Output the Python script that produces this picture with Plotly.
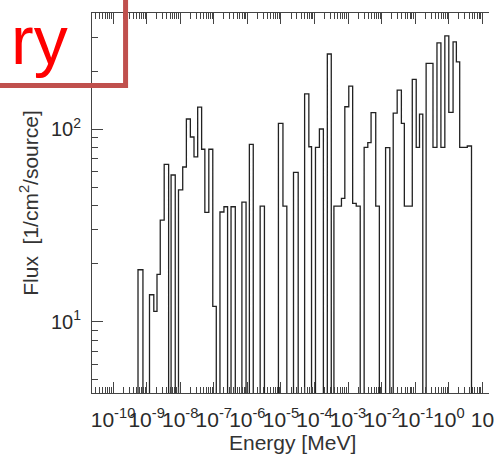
import plotly.graph_objects as go

# ---------------- data ----------------
# bin edges in MeV (78 edges -> 77 bins)
edges_mev = [
    5.55e-10, 7.78e-10, 1.22e-9, 1.64e-9, 2.04e-9, 2.55e-9, 3.34e-9, 4.53e-9,
    5.36e-9, 7.13e-9, 8.91e-9, 1.19e-8, 1.53e-8, 2.01e-8, 2.58e-8, 3.32e-8,
    4.35e-8, 5.43e-8, 7.13e-8, 9.35e-8, 1.19e-7, 1.53e-7, 2.01e-7, 2.58e-7,
    3.27e-7, 4.38e-7, 6.89e-7, 9.16e-7, 1.15e-6, 1.50e-6, 2.41e-6, 3.23e-6,
    8.43e-6, 1.15e-5, 1.50e-5, 2.37e-5, 3.27e-5, 5.08e-5, 6.79e-5, 8.17e-5,
    1.07e-4, 1.40e-4, 1.84e-4, 2.41e-4, 3.16e-4, 3.79e-4, 6.35e-4, 8.00e-4,
    1.05e-3, 1.37e-3, 1.75e-3, 2.30e-3, 3.01e-3, 3.87e-3, 4.84e-3, 6.67e-3,
    8.55e-3, 1.31e-2, 1.75e-2, 2.21e-2, 2.90e-2, 3.87e-2, 4.74e-2, 8.17e-2,
    1.07e-1, 1.34e-1, 1.68e-1, 2.11e-1, 3.38e-1, 4.44e-1, 5.82e-1, 7.62e-1,
    1.00, 1.34, 1.68, 2.11, 3.55, 4.74,
]
# flux per bin [1/cm^2/source]; 0 = empty bin
flux = [
    18.6, 0, 13.8, 11.3, 17.6, 33.7, 65.6, 0,
    57.7, 0, 48.3, 63.5, 112.7, 90.9, 71.6, 130,
    78.5, 36.9, 78.5, 12.0, 0, 37.1, 39.5, 0,
    39.5, 0, 41.7, 0, 83.3, 0, 39.8, 0,
    107, 39.8, 0, 59.6, 0, 152, 80.9, 0,
    80.3, 100, 0, 245, 0, 39.8, 43.7, 130.5,
    167, 41.1, 39.8, 0, 80.3, 84.9, 121.5, 39.8,
    0, 80.1, 0, 121, 159, 107, 39.8, 181,
    80.3, 119.6, 0, 219, 80.3, 280, 80.3, 304,
    122, 283, 223, 80.3, 81.6,
]
assert len(edges_mev) == len(flux) + 1

x_tick_vals = [10.0 ** k for k in range(-10, 2)]
x_tick_text = ["10<sup>-%d</sup>" % (-k) for k in range(-10, 0)] + ["10<sup>0</sup>", "10"]
y_tick_vals = [10, 100]
y_tick_text = ["10<sup>1</sup>", "10<sup>2</sup>"]

x_minor = [m * 10.0 ** k for k in range(-12, 2) for m in range(2, 10)]
y_minor = [m * 10.0 ** k for k in range(0, 3) for m in range(2, 10)]

# ---------------- geometry ----------------
W, H = 494, 455
PL, PR, PT, PB = 92, 494, 13, 393


def px(x):
    return (x - PL) / (PR - PL)


def py(y):
    return (PB - y) / (PB - PT)


TINY = 1e-3  # empty bins fall below the visible range
xs = [1e-13] + edges_mev + [1e3]
ys = [TINY] + [v if v > 0 else TINY for v in flux] + [TINY, TINY]

FONT = "Liberation Sans, Arial, sans-serif"
AX = "#444444"
TXT = "#2a2a2a"

fig = go.Figure()
fig.add_trace(go.Scatter(
    x=xs, y=ys, mode="lines", line=dict(shape="hv", color="#222222", width=1.3),
    hoverinfo="skip", showlegend=False,
))

fig.update_layout(
    width=W, height=H,
    margin=dict(l=PL, r=W - PR, t=PT, b=H - PB, pad=0),
    paper_bgcolor="white", plot_bgcolor="white",
    font=dict(family=FONT, color=TXT),
    xaxis=dict(
        type="log", range=[-10.626, 1.197], showgrid=False, zeroline=False,
        showline=True, linecolor=AX, linewidth=1, mirror="ticks",
        ticks="inside", ticklen=11, tickcolor=AX, tickwidth=1,
        tickmode="array", tickvals=x_tick_vals, ticktext=x_tick_text,
        tickangle=0, ticklabelstandoff=8, ticklabeloverflow="allow",
        tickfont=dict(size=21, family=FONT, color=TXT),
        minor=dict(ticks="inside", ticklen=6, tickcolor=AX, tickwidth=1,
                   tickmode="array", tickvals=x_minor, showgrid=False),
    ),
    yaxis=dict(
        type="log", range=[0.630, 2.602], showgrid=False, zeroline=False,
        showline=True, linecolor=AX, linewidth=1, mirror=False,
        ticks="inside", ticklen=11, tickcolor=AX, tickwidth=1,
        tickmode="array", tickvals=y_tick_vals, ticktext=y_tick_text,
        tickangle=0, ticklabelstandoff=6,
        tickfont=dict(size=20, family=FONT, color=TXT),
        minor=dict(ticks="inside", ticklen=6, tickcolor=AX, tickwidth=1,
                   tickmode="array", tickvals=y_minor, showgrid=False),
    ),
)

fig.add_annotation(
    x=px(295), y=py(442), xref="paper", yref="paper", text="Energy [MeV]",
    showarrow=False, xanchor="center", yanchor="middle",
    font=dict(size=21, family=FONT, color="#333333"),
)
fig.add_annotation(
    x=px(28), y=py(203), xref="paper", yref="paper",
    text="Flux  [1/cm<sup>2</sup>/source]", textangle=-90,
    showarrow=False, xanchor="center", yanchor="middle",
    font=dict(size=21, family=FONT, color="#333333"),
)
fig.add_annotation(
    x=px(70), y=py(40), xref="paper", yref="paper", text="ry",
    showarrow=False, xanchor="right", yanchor="middle",
    font=dict(size=68, family=FONT, color="#FF0000"),
)
fig.add_shape(
    type="path", xref="paper", yref="paper", layer="above",
    path="M %f,%f L %f,%f L %f,%f" % (px(-10), py(85.5), px(126), py(85.5), px(126), py(-10)),
    line=dict(color="#C0504D", width=5),
)

fig.write_html("out.html")
